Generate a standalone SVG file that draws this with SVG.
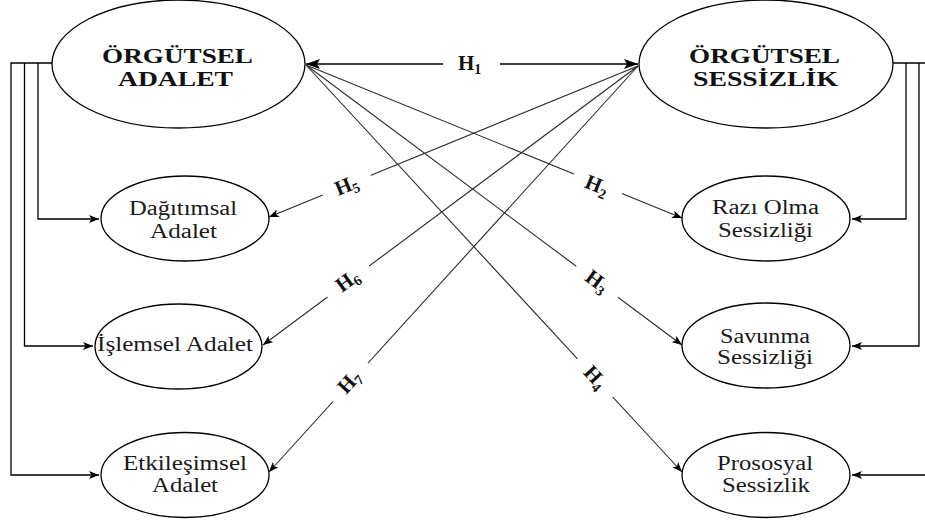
<svg xmlns="http://www.w3.org/2000/svg" width="925" height="521" viewBox="0 0 925 521">
<style>
.n{fill:#fff;stroke:#000;stroke-width:1.3}
.t{font-family:"Liberation Serif","Times New Roman",serif;font-size:20px;fill:#1a1a1a}
.b{font-family:"Liberation Serif","Times New Roman",serif;font-size:22px;font-weight:bold;fill:#111}
.h{font-family:"Liberation Serif","Times New Roman",serif;font-size:21px;font-weight:bold;fill:#111}
.s{font-size:14px}
.br{fill:none;stroke:#000;stroke-width:1.3}
.d{fill:none;stroke:#2a2a2a;stroke-width:1.1}
.lb{fill:#fff;stroke:none}
</style>
<defs>
<marker id="a" viewBox="0 0 10 8" markerWidth="10" markerHeight="8" refX="10" refY="4" orient="auto" markerUnits="userSpaceOnUse">
<path d="M0,0 L10,4 L0,8 L2.5,4 z" fill="#000"/>
</marker>
<marker id="big" viewBox="0 0 14 10" markerWidth="14" markerHeight="10" refX="14" refY="5" orient="auto" markerUnits="userSpaceOnUse">
<path d="M0,0 L14,5 L0,10 L3,5 z" fill="#000"/>
</marker>
</defs>
<g id="connectors">
<path class="br" d="M52,63 H11 V475 H99" marker-end="url(#a)"/>
<path class="br" d="M38,63 V219 H99" marker-end="url(#a)"/>
<path class="br" d="M24.5,63 V346 H93" marker-end="url(#a)"/>
<path class="br" d="M893,63 H932"/>
<path class="br" d="M906,63 V219 H852" marker-end="url(#a)"/>
<path class="br" d="M919,63 V346 H852" marker-end="url(#a)"/>
<path class="br" d="M932,63 V475 H852" marker-end="url(#a)"/>
<path class="br" d="M443,64 H306" marker-end="url(#big)"/>
<path class="br" d="M500,64 H638" marker-end="url(#big)"/>
<path class="d" d="M306,65 L682,218" marker-end="url(#a)"/>
<path class="d" d="M306,65 L682,345" marker-end="url(#a)"/>
<path class="d" d="M306,65 L682,472" marker-end="url(#a)"/>
<path class="d" d="M638,66 L269,217" marker-end="url(#a)"/>
<path class="d" d="M638,66 L263,345" marker-end="url(#a)"/>
<path class="d" d="M638,66 L269,472" marker-end="url(#a)"/>
<g transform="translate(597,186) rotate(22.2)"><rect class="lb" x="-26" y="-11" width="52" height="22"/><text class="h" x="-12" y="6">H<tspan class="s" dy="4">2</tspan></text></g>
<g transform="translate(597,282) rotate(36.7)"><rect class="lb" x="-26" y="-11" width="52" height="22"/><text class="h" x="-12" y="6">H<tspan class="s" dy="4">3</tspan></text></g>
<g transform="translate(595,378) rotate(47.3)"><rect class="lb" x="-26" y="-11" width="52" height="22"/><text class="h" x="-12" y="6">H<tspan class="s" dy="4">4</tspan></text></g>
<g transform="translate(347,186) rotate(-22.3)"><rect class="lb" x="-26" y="-11" width="52" height="22"/><text class="h" x="-12" y="6">H<tspan class="s" dy="4">5</tspan></text></g>
<g transform="translate(348,281) rotate(-36.6)"><rect class="lb" x="-26" y="-11" width="52" height="22"/><text class="h" x="-12" y="6">H<tspan class="s" dy="4">6</tspan></text></g>
<g transform="translate(350,382) rotate(-47.7)"><rect class="lb" x="-26" y="-11" width="52" height="22"/><text class="h" x="-12" y="6">H<tspan class="s" dy="4">7</tspan></text></g>
<text class="h" x="458" y="70">H<tspan class="s" dy="4">1</tspan></text>
</g>
<g id="orgutsel-adalet">
<ellipse class="n" cx="178.5" cy="64" rx="126.5" ry="64"/>
<text class="b" x="102" y="63" textLength="151" lengthAdjust="spacingAndGlyphs">ÖRGÜTSEL</text>
<text class="b" x="118" y="86" textLength="115" lengthAdjust="spacingAndGlyphs">ADALET</text>
</g>
<g id="orgutsel-sessizlik">
<ellipse class="n" cx="766" cy="64" rx="127" ry="64"/>
<text class="b" x="689" y="63" textLength="151" lengthAdjust="spacingAndGlyphs">ÖRGÜTSEL</text>
<text class="b" x="693" y="86" textLength="145" lengthAdjust="spacingAndGlyphs">SESSİZLİK</text>
</g>
<g id="dagitimsal">
<ellipse class="n" cx="185" cy="218.5" rx="84" ry="42.5"/>
<text class="t" x="129" y="215" textLength="108" lengthAdjust="spacingAndGlyphs">Dağıtımsal</text>
<text class="t" x="150" y="237.5" textLength="67" lengthAdjust="spacingAndGlyphs">Adalet</text>
</g>
<g id="islemsel">
<ellipse class="n" cx="178.5" cy="346.5" rx="83.5" ry="42.5"/>
<text class="t" x="97" y="351" textLength="156" lengthAdjust="spacingAndGlyphs">İşlemsel Adalet</text>
</g>
<g id="etkilesimsel">
<ellipse class="n" cx="185" cy="475" rx="84" ry="42.5"/>
<text class="t" x="123" y="470" textLength="124" lengthAdjust="spacingAndGlyphs">Etkileşimsel</text>
<text class="t" x="152" y="492" textLength="66" lengthAdjust="spacingAndGlyphs">Adalet</text>
</g>
<g id="razi-olma">
<ellipse class="n" cx="766" cy="218.5" rx="84" ry="42.5"/>
<text class="t" x="712" y="214" textLength="107" lengthAdjust="spacingAndGlyphs">Razı Olma</text>
<text class="t" x="718" y="237" textLength="95" lengthAdjust="spacingAndGlyphs">Sessizliği</text>
</g>
<g id="savunma">
<ellipse class="n" cx="766" cy="345.5" rx="84" ry="42.5"/>
<text class="t" x="720" y="343" textLength="90" lengthAdjust="spacingAndGlyphs">Savunma</text>
<text class="t" x="717" y="364" textLength="96" lengthAdjust="spacingAndGlyphs">Sessizliği</text>
</g>
<g id="prososyal">
<ellipse class="n" cx="766" cy="475" rx="84" ry="42.5"/>
<text class="t" x="717" y="470" textLength="96" lengthAdjust="spacingAndGlyphs">Prososyal</text>
<text class="t" x="722" y="492" textLength="88" lengthAdjust="spacingAndGlyphs">Sessizlik</text>
</g>
</svg>
